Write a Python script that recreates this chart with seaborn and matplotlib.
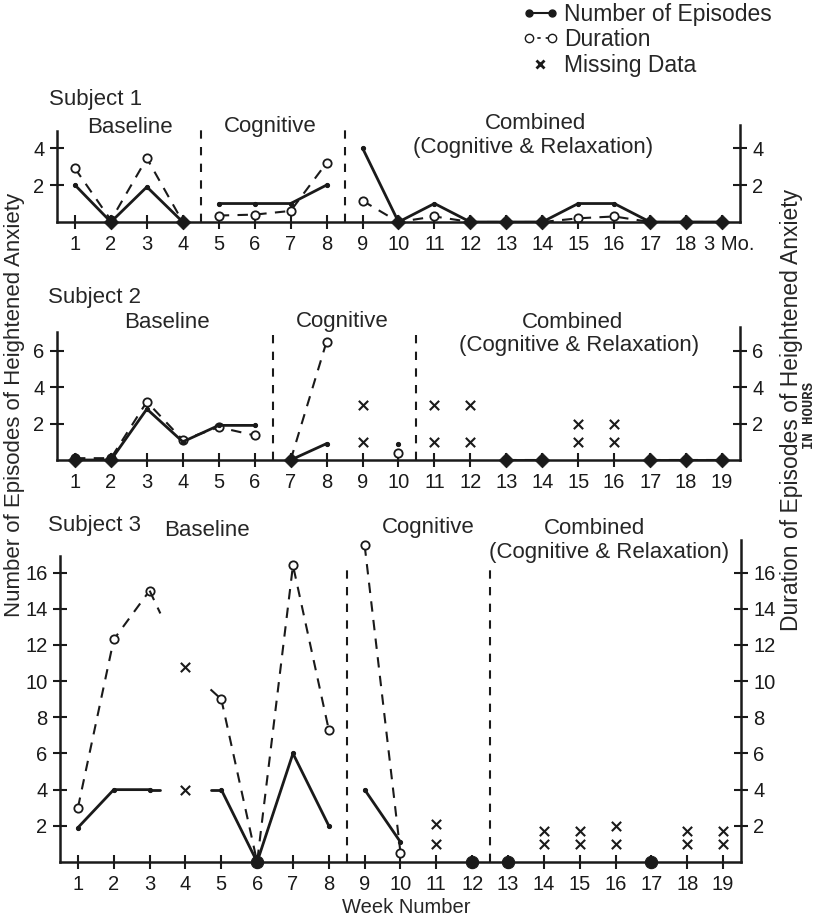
# Anxiety episodes across treatment phases, three subjects
import numpy as np
import pandas as pd
import seaborn as sns
import matplotlib.pyplot as plt
import matplotlib.transforms as mtransforms
from matplotlib.lines import Line2D
from matplotlib.legend_handler import HandlerLine2D

sns.set_theme(style='white')
plt.rcParams['font.family'] = ['Liberation Sans', 'DejaVu Sans']

na = np.nan
weeks = list(range(1, 20))
labels1 = [str(w) for w in range(1, 19)] + ['3 Mo.']
labels23 = [str(w) for w in range(1, 20)]

# Subject 1
num1 = [2, 0, 1.9, 0, 1, 1, 1, 2, 4, 0, 1, 0, 0, 0, 1, 1, 0, 0, 0]
dur1 = [2.9, 0.1, 3.45, 0, 0.35, 0.4, 0.6, 3.2, 1.15, 0, 0.3, 0, 0, 0, 0.2, 0.3, 0, 0, 0]
breaks1 = [4.5, 8.5]
miss_wk1 = []
miss_val1 = []

# Subject 2
num2 = [0, 0, 2.8, 1.0, 1.9, 1.9, 0, 0.9, na, 0.9, na, na, 0, 0, na, na, 0, 0, 0]
dur2 = [0.1, 0.1, 3.2, 1.1, 1.8, 1.35, 0, 6.5, na, 0.4, na, na, 0, 0, na, na, 0, 0, 0]
breaks2 = [6.5, 10.5]
miss_wk2 = [9, 9, 11, 11, 12, 12, 15, 15, 16, 16]
miss_val2 = [1, 3, 1, 3, 1, 3, 1, 2, 1, 2]

# Subject 3
num3 = [1.9, 4, 4, na, 4, 0, 6, 2, 4, 1.1, na, 0, 0, na, na, na, 0, na, na]
dur3 = [3.0, 12.3, 15.0, na, 9.0, 0, 16.4, 7.3, 17.5, 0.5, na, 0, 0, na, na, na, 0, na, na]
breaks3 = [8.5, 12.5]
miss_wk3 = [4, 4, 11, 11, 14, 14, 15, 15, 16, 16, 18, 18, 19, 19]
miss_val3 = [4, 10.8, 1, 2.1, 1, 1.7, 1, 1.7, 1, 2.0, 1, 1.7, 1, 1.7]
# baseline lines of subject 3 run part way toward the week-4 estimates
toward3_num = (4, 4.0)
toward3_dur = (4, 10.8)

W, H = 820, 921
fig = plt.figure(figsize=(W / 100, H / 100), dpi=100)

DUR_KW = dict(color='k', lw=1.5, linestyle=(0, (5, 4)))
NUM_KW = dict(color='k', lw=2)


def px(x, y):
    return x / W, 1 - y / H


def rect(l, t, r, b):
    return [l / W, 1 - b / H, (r - l) / W, (b - t) / H]


def segments(vals, breaks):
    s = pd.Series(vals, dtype=float)
    phase = pd.Series(np.searchsorted(breaks, weeks))
    seg = (s.isna() | (phase.diff().fillna(0) != 0)).cumsum()
    df = pd.DataFrame({'week': weeks, 'value': s, 'seg': seg})
    return df.dropna()


def stubs(ax, vals, target, kw, frac=0.3):
    tw, tv = target
    for nb in (tw - 1, tw + 1):
        v = vals[nb - 1]
        if np.isnan(v):
            continue
        part = pd.DataFrame({'week': [nb, nb + (tw - nb) * frac],
                             'value': [v, v + (tv - v) * frac]})
        sns.lineplot(data=part, x='week', y='value', estimator=None, ax=ax,
                     legend=False, **kw)
    ax.set_xlabel('')
    ax.set_ylabel('')


def panel(box, num, dur, breaks, miss_wk, miss_val, labels, ytop, yticks,
          left_top, vfrac, zmark, zsize):
    ax = fig.add_axes(rect(*box))
    dn = segments(num, breaks)
    dd = segments(dur, breaks)
    sns.lineplot(data=dd, x='week', y='value', units='seg', estimator=None,
                 marker='o', markersize=6, markerfacecolor='white',
                 markeredgecolor='k', markeredgewidth=1.3, ax=ax, legend=False,
                 **DUR_KW)
    sns.lineplot(data=dn, x='week', y='value', units='seg', estimator=None,
                 marker='o', markersize=3, markeredgecolor='k', ax=ax,
                 legend=False, **NUM_KW)
    zeros = dn[dn['value'] == 0]
    sns.scatterplot(data=zeros, x='week', y='value', marker=zmark, s=zsize,
                    color='k', edgecolor='k', ax=ax, zorder=5, clip_on=False,
                    legend=False)
    if miss_wk:
        sns.scatterplot(x=miss_wk, y=miss_val, marker='x', s=45, color='k',
                        linewidth=1.5, ax=ax, legend=False)
    for b in breaks:
        ax.axvline(b, 0, vfrac, color='k', lw=1.5, ls=(0, (4, 4)))
    ax.set_xlim(0.5, 19.5)
    ax.set_ylim(0, ytop)
    ax.set_xticks(weeks, labels)
    ax.set_yticks(yticks)
    ax.set_xlabel('')
    ax.set_ylabel('')
    ax.tick_params(axis='both', direction='inout', length=10, width=1.5,
                   labelsize=14.5, colors='k', pad=4)
    ax.tick_params(axis='x', bottom=True)
    ax.tick_params(axis='y', left=True, right=True, labelright=True)
    ax.spines['top'].set_visible(False)
    for sp in ['left', 'right', 'bottom']:
        ax.spines[sp].set_color('k')
        ax.spines[sp].set_linewidth(1.8)
    ax.spines['left'].set_bounds(0, left_top)
    ax.set_facecolor('none')
    return ax


ax1 = panel((57, 125, 740, 222), num1, dur1, breaks1, miss_wk1, miss_val1, labels1,
            5.25, [2, 4], 4.9, 1.0, 'D', 55)
# nudge the "3 Mo." label right so it clears "18"
last = ax1.get_xticklabels()[-1]
last.set_transform(last.get_transform() +
                   mtransforms.ScaledTranslation(7 / 100, 0, fig.dpi_scale_trans))

panel((57, 327, 740, 460), num2, dur2, breaks2, miss_wk2, miss_val2, labels23,
      7.3, [2, 4, 6], 7.0, 1.0, 'D', 55)
ax3 = panel((60, 540, 741, 862), num3, dur3, breaks3, miss_wk3, miss_val3, labels23,
            17.8, list(range(2, 17, 2)), 16.9, 0.92, 'o', 80)
stubs(ax3, num3, toward3_num, NUM_KW)
stubs(ax3, dur3, toward3_dur, DUR_KW)

# subject titles and phase labels
fs = 16
fig.text(*px(49, 100), 'Subject 1', ha='left', va='center', fontsize=fs)
fig.text(*px(130, 127), 'Baseline', ha='center', va='center', fontsize=fs)
fig.text(*px(270, 126), 'Cognitive', ha='center', va='center', fontsize=fs)
fig.text(*px(535, 123), 'Combined', ha='center', va='center', fontsize=fs)
fig.text(*px(533, 148), '(Cognitive & Relaxation)', ha='center', va='center', fontsize=fs)

fig.text(*px(48, 298), 'Subject 2', ha='left', va='center', fontsize=fs)
fig.text(*px(167, 322), 'Baseline', ha='center', va='center', fontsize=fs)
fig.text(*px(342, 322), 'Cognitive', ha='center', va='center', fontsize=fs)
fig.text(*px(573, 322), 'Combined', ha='center', va='center', fontsize=fs)
fig.text(*px(579, 345), '(Cognitive & Relaxation)', ha='center', va='center', fontsize=fs)

fig.text(*px(48, 525), 'Subject 3', ha='left', va='center', fontsize=fs)
fig.text(*px(207, 530), 'Baseline', ha='center', va='center', fontsize=fs)
fig.text(*px(428, 527), 'Cognitive', ha='center', va='center', fontsize=fs)
fig.text(*px(595, 528), 'Combined', ha='center', va='center', fontsize=fs)
fig.text(*px(609, 552), '(Cognitive & Relaxation)', ha='center', va='center', fontsize=fs)

# axis titles
fig.text(*px(15, 405), 'Number of Episodes of Heightened Anxiety', rotation=90,
         ha='center', va='center', fontsize=16)
fig.text(*px(792, 410), 'Duration of Episodes of Heightened Anxiety', rotation=90,
         ha='center', va='center', fontsize=16.5)
fig.text(*px(809, 415), 'IN HOURS', rotation=90, ha='center', va='center',
         fontsize=10, family='Liberation Mono', weight='bold')
fig.text(*px(406, 907), 'Week Number', ha='center', va='center', fontsize=14.5)

# legend
h_num = Line2D([], [], color='k', lw=1.5, marker='o', markersize=5)
h_dur = Line2D([], [], color='k', lw=1.2, ls=(0, (2, 3)), marker='o', markersize=6,
               markerfacecolor='white', markeredgecolor='k')
h_miss = Line2D([], [], color='k', ls='none', marker='x', markersize=6, mew=2)
fig.legend([h_num, h_dur, h_miss], ['Number of Episodes', 'Duration', 'Missing Data'],
           loc='upper left', bbox_to_anchor=(522 / W, 1 - 3 / H), frameon=False,
           fontsize=16.5, numpoints=2, handlelength=1.6, handletextpad=0.25,
           labelspacing=0.1, borderpad=0, borderaxespad=0,
           handler_map={h_miss: HandlerLine2D(numpoints=1)})

fig.savefig('out.png', dpi=100)
